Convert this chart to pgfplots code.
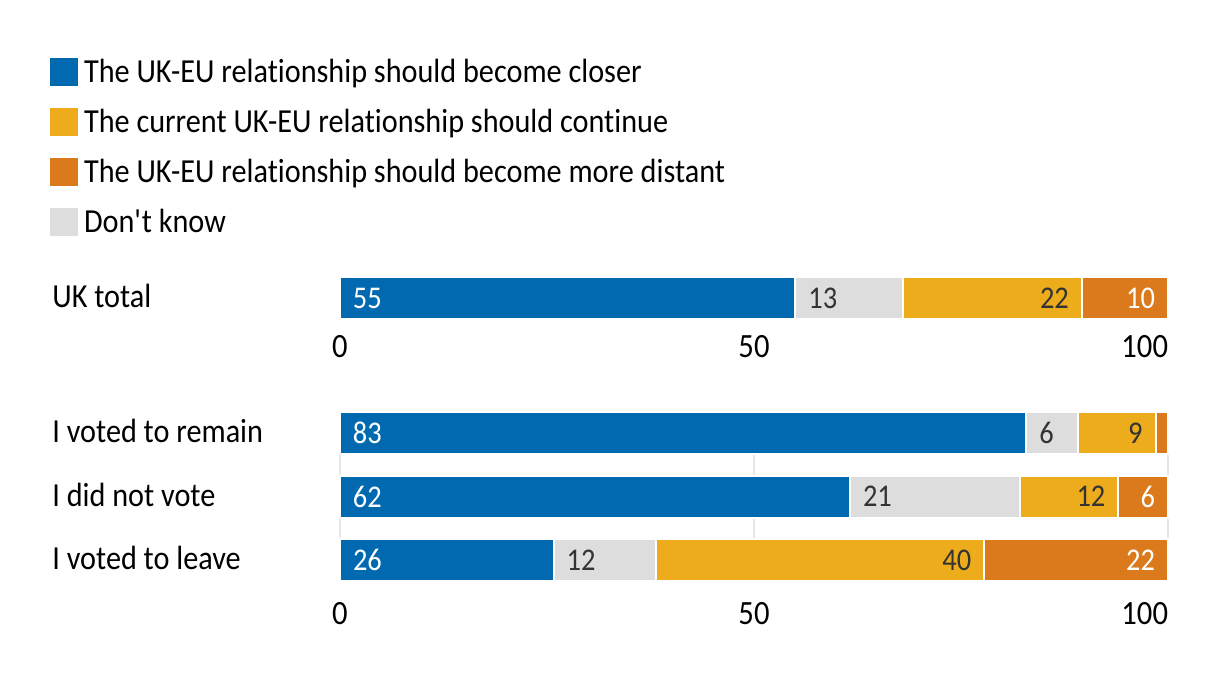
\documentclass[border=0pt]{standalone}
\usepackage{fontspec}
\setmainfont{Carlito}[FakeStretch=0.90, Ligatures=NoCommon]
\usepackage{pgfplots}
\pgfplotsset{compat=1.18}
\definecolor{cblue}{HTML}{0069B0}
\definecolor{cyel}{HTML}{ECAC1C}
\definecolor{corg}{HTML}{DB7A1C}
\definecolor{cgray}{HTML}{DDDDDD}
\definecolor{ctxt}{HTML}{333333}
\definecolor{cgrid}{HTML}{E6E6E6}
\newcommand{\lbl}{\fontsize{16.8}{20}\selectfont}
\newcommand{\num}{\fontsize{15.8}{19}\selectfont}
\newcommand{\tck}{\fontsize{17}{20}\selectfont}
\pgfplotsset{
  panel/.style={xbar stacked, x=4.14pt, xmin=0, xmax=100, enlargelimits=false,
    bar width=21pt, axis line style={draw=none}, major tick length=0pt,
    xtick={0,50,100}, xticklabels={0,50,\llap{100}},
    xmajorgrids, major grid style={cgrid, line width=1pt},
    point meta=explicit symbolic, clip=false,
    xticklabel style={font=\tck, inner sep=0pt, text=black},
    yticklabel style={font=\lbl, anchor=west, inner sep=0pt, xshift=-144pt, yshift=1pt, text=black}},
  seg/.style={fill=#1, draw=white, line width=1pt},
  lblL/.style={nodes near coords={\pgfplotspointmeta},
    visualization depends on={rawx \as \rawx},
    every node near coord/.append style={anchor=west, inner sep=0pt, font=\num, text=#1, xshift={-\rawx*2.07pt+6pt}}},
  lblR/.style={nodes near coords={\pgfplotspointmeta},
    visualization depends on={rawx \as \rawx},
    every node near coord/.append style={anchor=east, inner sep=0pt, font=\num, text=#1, xshift={\rawx*2.07pt-6pt}}},
}
\begin{document}
\begin{tikzpicture}
\path[use as bounding box] (0pt,0pt) rectangle (610pt,-337pt);
% Top panel
\begin{axis}[panel, at={(170pt,-159pt)}, anchor=south west,
  y=20pt, ymin=-0.5, ymax=0.5, ytick={0}, yticklabels={UK total},
  xticklabel style={yshift=-8.5pt},
  legend cell align=left,
  legend image code/.code={\fill[#1, draw=none] (0pt,-7pt) rectangle (14pt,7pt);},
  legend style={draw=none, fill=none, inner sep=0pt, outer sep=0pt,
    at={(-0.3502,6.5)}, anchor=north west, row sep=11pt, font=\lbl,
    nodes={inner sep=0pt},
    /tikz/every odd column/.append style={column sep=3pt}}]
\addlegendimage{fill=cblue}
\addlegendentry{The UK-EU relationship should become closer}
\addlegendimage{fill=cyel}
\addlegendentry{The current UK-EU relationship should continue}
\addlegendimage{fill=corg}
\addlegendentry{The UK-EU relationship should become more distant}
\addlegendimage{fill=cgray}
\addlegendentry{Don\textquotesingle t know}
\addplot[seg=cblue, lblL=white, forget plot] coordinates {(55,0) [55]};
\addplot[seg=cgray, lblL=ctxt, forget plot] coordinates {(13,0) [13]};
\addplot[seg=cyel, lblR=ctxt, forget plot] coordinates {(21.6,0) [22]};
\addplot[seg=corg, lblR=white, forget plot] coordinates {(10.4,0) [10]};
\end{axis}
% Bottom panel
\begin{axis}[panel, at={(170pt,-290pt)}, anchor=south west,
  y=31.75pt, ymin=-0.315, ymax=2.315, ytick={0,1,2},
  yticklabels={I voted to leave, I did not vote, I voted to remain},
  xticklabel style={yshift=-11pt}]
\addplot[seg=cblue, lblL=white] coordinates {(82.9,2) [83] (61.6,1) [62] (25.8,0) [26]};
\addplot[seg=cgray, lblL=ctxt] coordinates {(6.2,2) [6] (20.5,1) [21] (12.4,0) [12]};
\addplot[seg=cyel, lblR=ctxt] coordinates {(9.4,2) [9] (11.9,1) [12] (39.6,0) [40]};
\addplot[seg=corg, lblR=white] coordinates {(1.5,2) [{}] (6.0,1) [6] (22.2,0) [22]};
\end{axis}
\end{tikzpicture}
\end{document}
